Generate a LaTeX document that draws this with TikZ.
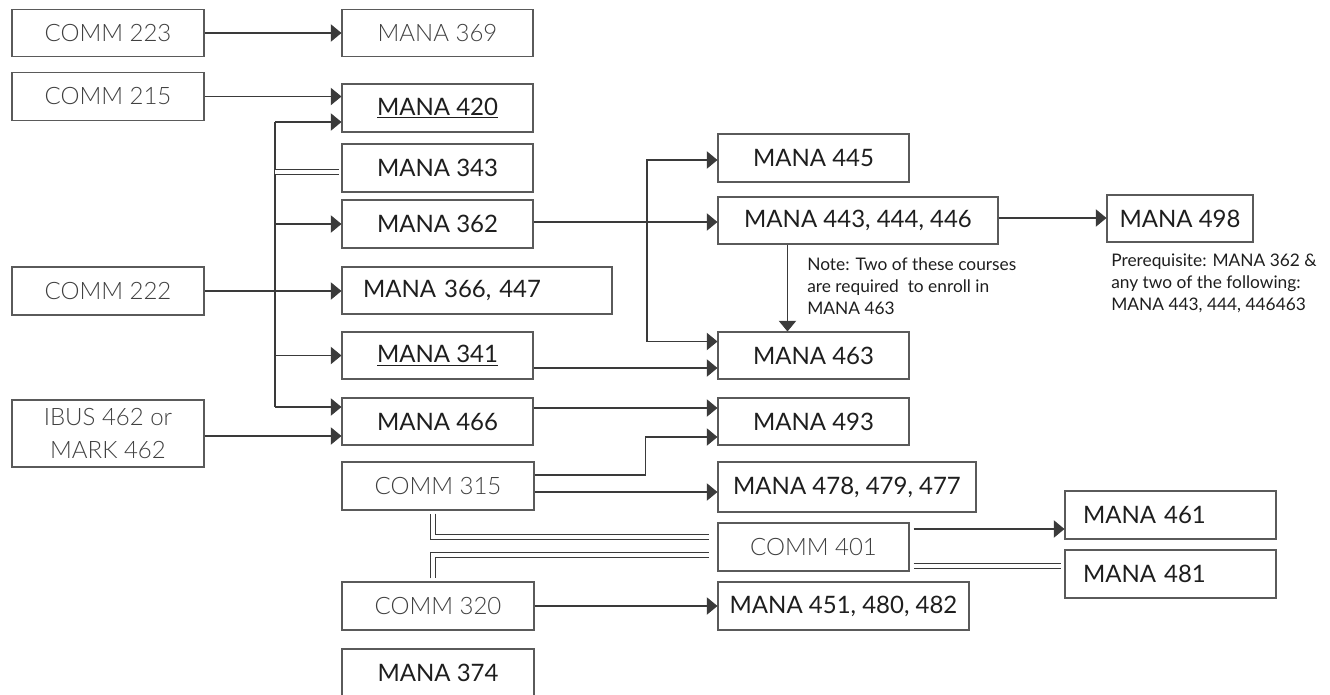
\documentclass[tikz,border=0pt]{standalone}
\usepackage{fontspec}
\setmainfont{Lato}
\newfontfamily\thinfont{Lato Light}
\usetikzlibrary{arrows.meta, calc}

\definecolor{linegray}{HTML}{3A3A3A}
\definecolor{boxgray}{HTML}{5A5A5A}
\definecolor{textdark}{HTML}{1E1E1E}

\begin{document}
\begin{tikzpicture}
	[x=0.75pt, y=-0.75pt,
	 box/.style={draw=boxgray, line width=0.8pt, minimum width=143.25pt, minimum height=36pt, inner sep=0pt, text=textdark, font=\fontsize{18}{21}\selectfont},
	 thin/.style={box, text=black!75, font=\thinfont\fontsize{18}{21}\selectfont},
	 leftbox/.style={box, align=left, inner xsep=#1},
	 arr/.style={draw=linegray, line width=0.8pt, -{Triangle[length=8pt,width=13pt]}},
	 dbl/.style={draw=linegray, line width=0.75pt, double=white, double distance=3pt},
	 note/.style={inner sep=0pt, align=left, text=textdark, font=\fontsize{13}{16.5}\selectfont}]

	\useasboundingbox (0,0) rectangle (1330,694);

	% left column
	\node[thin, minimum width=144pt, minimum height=35.5pt] (c223) at (108,33) {COMM 223};
	\node[thin, minimum width=144pt, minimum height=35.5pt] (c215) at (108,96.5) {COMM 215};
	\node[thin, minimum width=144pt] (c222) at (108,291) {COMM 222};
	\node[thin, minimum width=144pt, minimum height=50.25pt, align=center, font=\thinfont\fontsize{18}{24.75}\selectfont] (ibus) at (108,433.5) {IBUS 462 or\\MARK 462};

	% second column
	\node[thin, minimum height=35.5pt] (m369) at (437.5,33) {MANA 369};
	\node[box] (m420) at (437.5,108) {\underline{MANA 420}};
	\node[box] (m343) at (437.5,168) {MANA 343};
	\node[box] (m362) at (437.5,224) {MANA 362};
	\node[leftbox=15.75pt, text width=171pt, minimum height=35.25pt] (m366) at (477,290.5) {MANA 366, 447};
	\node[box, minimum height=35.25pt] (m341) at (437.5,355.5) {\underline{MANA 341}};
	\node[box, minimum height=35.25pt] (m466) at (437.5,421.5) {MANA 466};
	\node[thin, minimum width=144pt] (c315) at (438,486) {COMM 315};
	\node[thin, minimum width=144pt] (c320) at (438,606) {COMM 320};
	\node[box, minimum width=144pt] (m374) at (438,673) {MANA 374};

	% third column
	\node[box] (m445) at (813.5,158) {MANA 445};
	\node[box, minimum width=210pt, minimum height=35.25pt] (m443) at (858,220.5) {MANA 443, 444, 446};
	\node[box, minimum height=35.25pt] (m463) at (813.5,355.5) {MANA 463};
	\node[box, minimum height=35.25pt] (m493) at (813.5,421.5) {MANA 493};
	\node[box, minimum width=193.5pt, minimum height=37.5pt] (m478) at (847,487) {MANA 478, 479, 477};
	\node[thin] (c401) at (813.5,547) {COMM 401};
	\node[box, minimum width=188.25pt] (m451) at (843.5,606) {MANA 451, 480, 482};

	% right column
	\node[box, minimum width=109.5pt, minimum height=35.25pt] (m498) at (1180,218.5) {MANA 498};
	\node[leftbox=13.5pt, text width=131.25pt] (m461) at (1170.5,515) {MANA 461};
	\node[leftbox=13.5pt, text width=131.25pt] (m481) at (1170.5,574) {MANA 481};

	\node[note, anchor=north west] (note463) at (807,257) {Note: Two of these courses\\are required\ \ to enroll in\\MANA 463};
	\node[note, anchor=north west] (note498) at (1111,254) {Prerequisite: MANA 362 \&\\any two of the following:\\MANA 443, 444, 446463};

	% connectors
	\draw[arr] (c223) -- (m369);
	\draw[arr] (c215.east) -- (c215.east -| m420.west);
	\draw[arr] (c222.east) -- (c222.east -| m366.west);
	\draw[arr] ($(ibus.east)+(0,2.5)$) -- ($(ibus.east -| m466.west)+(0,2.5)$);

	\coordinate (bustop) at (275,122);
	\coordinate (busbot) at (275,407);
	\draw[draw=linegray, line width=0.8pt] (bustop) -- (busbot);
	\draw[arr] (bustop) -- (bustop -| m420.west);
	\draw[dbl] ($(bustop |- m343)+(0,3.5)$) -- ($(m343.west)+(-2,3.5)$);
	\draw[arr] (bustop |- m362) -- (m362.west);
	\draw[arr] (bustop |- m341) -- (m341.west);
	\draw[arr] (busbot) -- (busbot -| m466.west);

	\draw[arr] ($(m362.east)+(0,-2)$) -- ($(m362.east -| m443.west)+(0,-2)$);
	\coordinate (split) at (647,222);
	\draw[arr] (split) |- ($(m445.west)+(0,2)$);
	\draw[arr] (split) |- ($(m463.west)+(0,-14)$);
	\draw[arr] ($(m443.east)+(0,-2.5)$) -- ($(m498.west)+(0,-0.5)$);
	\draw[arr] ($(m443.south west)+(70,0)$) -- ($(m463.north west)+(70,0)$);

	\draw[arr] ($(m341.east)+(0,12.5)$) -- ($(m463.west)+(0,12.5)$);
	\draw[arr] ($(m466.east)+(0,-13.5)$) -- ($(m493.west)+(0,-13.5)$);
	\draw[arr] ($(c315.east)+(0,-11)$) -| ($(m493.west)+(-72,15.5)$) -- ($(m493.west)+(0,15.5)$);
	\draw[arr] ($(c315.east)+(0,6)$) -- ($(m478.west)+(0,5)$);

	\draw[dbl] ($(c315.south west)+(92,3)$) |- ($(c401.west)+(-8,-10)$);
	\draw[dbl] ($(c320.north west)+(92,-3)$) |- ($(c401.west)+(-8,7.5)$);
	\draw[arr] ($(c401.east)+(4,-18)$) -- ($(m461.west)+(0,14)$);
	\draw[dbl] ($(c401.east)+(4,19)$) -- ($(m481.west)+(-3,-8)$);
	\draw[arr] (c320.east) -- (c320.east -| m451.west);
\end{tikzpicture}
\end{document}
